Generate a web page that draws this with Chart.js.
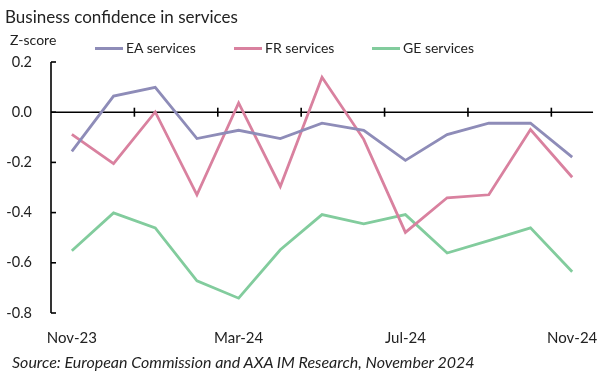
<!DOCTYPE html>
<html>
<head>
<meta charset="utf-8">
<script src="https://cdn.jsdelivr.net/npm/chart.js@4.4.1/dist/chart.umd.min.js"></script>
<style>
  html, body { margin: 0; padding: 0; background: #fff; }
  #wrap { position: relative; width: 614px; height: 379px; overflow: hidden; font-family: Lato, "Noto Sans", sans-serif; color: #222; }
  #c { position: absolute; left: 0; top: 0; }
  .t { position: absolute; white-space: nowrap; line-height: 1; }
  #title { left: 5px; top: 8px; font-size: 17px; color: #222; }
  #zs { left: 10px; top: 33px; font-size: 14px; }
  .lg { position: absolute; top: 41px; font-size: 14px; white-space: nowrap; line-height: 1; }
  .lg i { display: inline-block; width: 28px; height: 3px; vertical-align: middle; margin-right: 3px; position: relative; top: -1px; }
  #src { left: 12px; top: 354px; font-size: 16px; font-style: italic; }
</style>
</head>
<body>
<div id="wrap">
  <canvas id="c" width="614" height="379"></canvas>
  <div class="t" id="title">Business confidence in services</div>
  <div class="t" id="zs">Z-score</div>
  <div class="lg" id="lg1" style="left:95px"><i style="background:#8E8CB8"></i>EA services</div>
  <div class="lg" id="lg2" style="left:234px"><i style="background:#D9819F"></i>FR services</div>
  <div class="lg" id="lg3" style="left:372px"><i style="background:#82CC9D"></i>GE services</div>
  <div class="t" id="src">Source: European Commission and AXA IM Research, November 2024</div>
</div>
<script>
const categories = ['Nov-23','Dec-23','Jan-24','Feb-24','Mar-24','Apr-24','May-24','Jun-24','Jul-24','Aug-24','Sep-24','Oct-24','Nov-24'];
const shownLabels = ['Nov-23','Mar-24','Jul-24','Nov-24'];
const eaServices = [-0.156, 0.064, 0.099, -0.105, -0.072, -0.105, -0.044, -0.072, -0.192, -0.089, -0.044, -0.044, -0.179];
const frServices = [-0.088, -0.205, 0.001, -0.329, 0.037, -0.296, 0.139, -0.108, -0.479, -0.341, -0.329, -0.069, -0.259];
const geServices = [-0.552, -0.401, -0.461, -0.672, -0.741, -0.548, -0.408, -0.445, -0.408, -0.561, -0.512, -0.461, -0.636];
const yMin = -0.8, yMax = 0.2, yStep = 0.2;

const axisPlugin = {
  id: 'axisPlugin',
  beforeDatasetsDraw(chart) {
    const ctx = chart.ctx, x = chart.scales.x, y = chart.scales.y, ca = chart.chartArea;
    ctx.save();
    ctx.strokeStyle = '#000';
    ctx.lineWidth = 1.6;
    ctx.beginPath(); ctx.moveTo(ca.left, ca.top); ctx.lineTo(ca.left, ca.bottom); ctx.stroke();
    y.ticks.forEach(t => {
      const py = y.getPixelForValue(t.value);
      ctx.beginPath(); ctx.moveTo(ca.left, py); ctx.lineTo(ca.left + 5, py); ctx.stroke();
    });
    const zy = y.getPixelForValue(0);
    ctx.beginPath(); ctx.moveTo(ca.left, zy); ctx.lineTo(ca.right, zy); ctx.stroke();
    for (let i = 1; i < categories.length - 1; i += 2) {
      const px = (x.getPixelForValue(i) + x.getPixelForValue(i + 1)) / 2;
      ctx.beginPath(); ctx.moveTo(px, zy - 4.5); ctx.lineTo(px, zy + 4.5); ctx.stroke();
    }
    ctx.restore();
  }
};

new Chart(document.getElementById('c'), {
  type: 'line',
  data: {
    labels: categories,
    datasets: [
      { label: 'EA services', data: eaServices, borderColor: '#8E8CB8', borderWidth: 2.8, pointRadius: 0, tension: 0 },
      { label: 'FR services', data: frServices, borderColor: '#D9819F', borderWidth: 2.8, pointRadius: 0, tension: 0 },
      { label: 'GE services', data: geServices, borderColor: '#82CC9D', borderWidth: 2.8, pointRadius: 0, tension: 0 }
    ]
  },
  options: {
    responsive: false,
    animation: false,
    layout: { padding: { left: 0, right: 18, top: 62, bottom: 21 } },
    plugins: { legend: { display: false }, tooltip: { enabled: false }, title: { display: false } },
    scales: {
      x: {
        type: 'category',
        offset: true,
        grid: { display: false, drawTicks: false },
        border: { display: false },
        afterFit(s) { s.height = 45; },
        ticks: {
          autoSkip: false, maxRotation: 0, padding: 16,
          color: '#222', font: { family: 'Lato', size: 15 },
          callback(v) { const l = this.getLabelForValue(v); return shownLabels.includes(l) ? l : ''; }
        }
      },
      y: {
        min: yMin, max: yMax,
        grid: { display: false, drawTicks: false },
        border: { display: false },
        afterFit(s) { s.width = 51; },
        ticks: {
          stepSize: yStep, padding: 19,
          color: '#222', font: { family: 'Lato', size: 14.5 },
          callback(v) { return (Math.abs(v) < 1e-9 ? 0 : v).toFixed(1); }
        }
      }
    }
  },
  plugins: [axisPlugin]
});
</script>
</body>
</html>
